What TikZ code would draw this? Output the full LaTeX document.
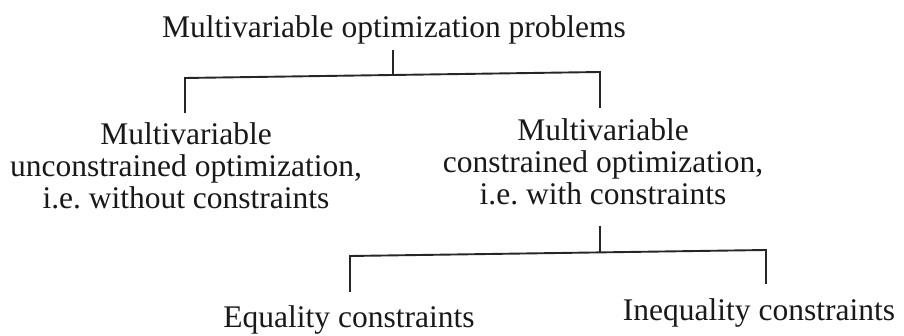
\documentclass[tikz,border=0pt]{standalone}
\usepackage{fontspec}
\setmainfont{Liberation Serif}
\begin{document}
\frenchspacing
\begin{tikzpicture}[x=1pt,y=-1pt,
  every node/.style={font=\fontsize{31.5}{32}\selectfont, inner sep=0pt, text=black!90},
  link/.style={line width=1.9pt, draw=black!85}]
\useasboundingbox[fill=white] (0,0) rectangle (904,336);
\node (top) at (394,30) {Multivariable optimization problems};
\node[align=center] (left) at (186,166) {Multivariable\\unconstrained optimization,\\i.e.\ without constraints};
\node[align=center] (right) at (603,162) {Multivariable\\constrained optimization,\\i.e.\ with constraints};
\node (eq) at (349,320) {Equality constraints};
\node (ineq) at (759,313) {Inequality constraints};
% first level
\coordinate (s1) at (393,50);
\coordinate (j1) at (393,76);
\coordinate (l1) at (185,78);
\coordinate (r1) at (600,72);
\coordinate (lb) at (185,113);
\coordinate (rb) at (600,108);
\draw[link] (s1) -- (j1);
\draw[link] (lb) -- (l1) -- (r1) -- (rb);
% second level
\coordinate (s2) at (600,226);
\coordinate (j2) at (600,252);
\coordinate (l2) at (350,256);
\coordinate (r2) at (766,250);
\coordinate (lb2) at (350,292);
\coordinate (rb2) at (766,284);
\draw[link] (s2) -- (j2);
\draw[link] (lb2) -- (l2) -- (r2) -- (rb2);
\end{tikzpicture}
\end{document}
